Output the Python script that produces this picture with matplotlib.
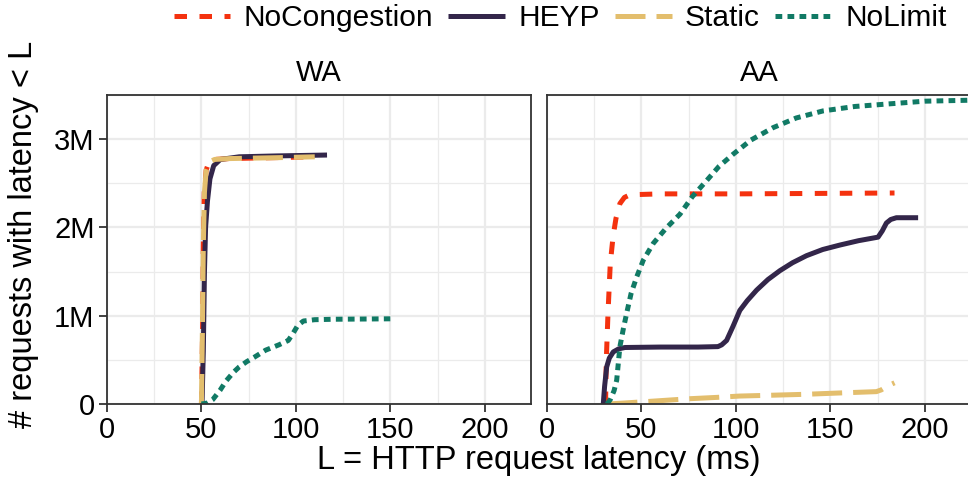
from __future__ import annotations

import matplotlib

matplotlib.use("Agg")

import matplotlib.pyplot as plt
from matplotlib.lines import Line2D
from matplotlib.ticker import MultipleLocator

plt.rcParams["font.family"] = ["Liberation Sans", "DejaVu Sans"]

# series order / legend order
series_names = ["NoCongestion", "HEYP", "Static", "NoLimit"]
panel_titles = ["WA", "AA"]

# WA panel (latency in ms, requests in millions)
nocong_wa_x = [50.0, 50.6, 51.0, 51.5, 52.5, 54.0, 57.0, 65.0, 110.0]
nocong_wa_y = [0.0, 0.8, 1.8, 2.4, 2.65, 2.74, 2.77, 2.78, 2.80]
heyp_wa_x = [50.3, 51.0, 51.6, 52.2, 53.2, 54.5, 56.5, 60.0, 70.0, 90.0, 116.5]
heyp_wa_y = [0.0, 0.6, 1.5, 2.0, 2.3, 2.55, 2.7, 2.77, 2.8, 2.81, 2.82]
static_wa_x = [50.0, 50.5, 51.0, 51.6, 52.5, 54.0, 57.0, 65.0, 90.0, 110.0]
static_wa_y = [0.0, 0.8, 1.8, 2.4, 2.65, 2.74, 2.77, 2.78, 2.79, 2.80]
nolimit_wa_x = [50, 53, 56, 60, 63, 67, 70, 74, 78, 84, 91, 96, 98.5, 101, 104, 110, 120, 150]
nolimit_wa_y = [0.0, 0.01, 0.05, 0.16, 0.26, 0.36, 0.42, 0.48, 0.53, 0.61, 0.67, 0.72, 0.8, 0.89,
                0.94, 0.955, 0.96, 0.965]

# AA panel
nocong_aa_x = [31.0, 31.4, 32.3, 33.5, 35.0, 36.5, 38.6, 41.0, 44.0, 60.0, 100.0, 184.0]
nocong_aa_y = [0.0, 0.5, 1.03, 1.59, 1.9, 2.1, 2.27, 2.34, 2.37, 2.38, 2.38, 2.39]
heyp_aa_x = [29.8, 30.5, 31.6, 33.0, 35.1, 38.0, 41.3, 60.0, 80.0, 90.5, 92.5, 95.1, 98.5, 102.1,
             106.0, 111.0, 117.0, 123.3, 130.0, 137.4, 146.0, 155.0, 165.0, 175.3, 177.5, 179.7,
             182.0, 185.0, 196.5]
heyp_aa_y = [0.0, 0.2, 0.42, 0.52, 0.59, 0.625, 0.64, 0.645, 0.645, 0.65, 0.67, 0.72, 0.88, 1.06,
             1.17, 1.29, 1.41, 1.51, 1.6, 1.68, 1.75, 1.80, 1.85, 1.89, 1.96, 2.05, 2.09, 2.11, 2.11]
static_aa_x = [32, 40, 54.5, 65, 75.7, 90, 102, 120, 137, 155, 174.4, 177, 180, 184]
static_aa_y = [0.0, 0.01, 0.03, 0.045, 0.06, 0.075, 0.09, 0.1, 0.11, 0.125, 0.14, 0.16, 0.2, 0.24]
nolimit_aa_x = [31.8, 33.5, 35.5, 36.9, 38.6, 40.5, 42.2, 44.5, 47.5, 51, 56.3, 63, 70.4, 77, 84.5,
                91, 98.6, 108, 119.7, 132, 146.2, 163, 181.5, 200, 222, 240]
nolimit_aa_y = [0.0, 0.05, 0.15, 0.27, 0.65, 0.86, 1.03, 1.25, 1.44, 1.63, 1.82, 1.99, 2.15, 2.35,
                2.53, 2.69, 2.83, 2.99, 3.13, 3.24, 3.32, 3.37, 3.40, 3.43, 3.44, 3.45]

x_ticks = [0, 50, 100, 150, 200]
y_ticks = [0, 1, 2, 3]
y_tick_labels = ["0", "1M", "2M", "3M"]

COLORS = {
    "NoCongestion": "#F4320F",
    "HEYP": "#33264A",
    "Static": "#E3BE6D",
    "NoLimit": "#117A65",
}
DASHES = {
    "NoCongestion": (2.5, 2.5),
    "HEYP": None,
    "Static": (6.0, 2.2),
    "NoLimit": (1.35, 1.05),
}
LW = 3.6
GRID = "#EBEBEB"
DARK = "#333333"


def style_panel(ax, title: str, show_y: bool) -> None:
    ax.set_xlim(0, 224.5)
    ax.set_ylim(0, 3.5)
    ax.set_xticks(x_ticks)
    ax.set_xticklabels([str(t) for t in x_ticks])
    ax.xaxis.set_minor_locator(MultipleLocator(25))
    ax.yaxis.set_minor_locator(MultipleLocator(0.5))
    ax.set_yticks(y_ticks)
    ax.tick_params(which="major", labelsize=21, color=DARK, width=1.3, length=6, pad=3,
                   labelcolor="black")
    ax.tick_params(which="minor", length=0)
    if show_y:
        ax.set_yticklabels(y_tick_labels)
    else:
        ax.set_yticklabels([])
        ax.tick_params(axis="y", which="major", length=0)
    ax.grid(which="major", color=GRID, linewidth=1.6)
    ax.grid(which="minor", color=GRID, linewidth=0.9)
    ax.set_axisbelow(True)
    for spine in ax.spines.values():
        spine.set_color(DARK)
        spine.set_linewidth(1.3)
    ax.set_title(title, fontsize=21, pad=10)


def draw_series(ax, data: dict[str, tuple[list, list]]) -> None:
    for name in series_names:
        xs, ys = data[name]
        line, = ax.plot(xs, ys, color=COLORS[name], linewidth=LW, solid_capstyle="butt",
                        dash_capstyle="butt", solid_joinstyle="round", clip_on=True)
        if DASHES[name] is not None:
            line.set_dashes(DASHES[name])


def main() -> None:
    fig = plt.figure(figsize=(9.68, 4.82), dpi=100)
    ax_wa = fig.add_axes([107 / 968, 78 / 482, 424 / 968, 309 / 482])
    ax_aa = fig.add_axes([547 / 968, 78 / 482, 424 / 968, 309 / 482])

    wa = {
        "NoCongestion": (nocong_wa_x, nocong_wa_y),
        "HEYP": (heyp_wa_x, heyp_wa_y),
        "Static": (static_wa_x, static_wa_y),
        "NoLimit": (nolimit_wa_x, nolimit_wa_y),
    }
    aa = {
        "NoCongestion": (nocong_aa_x, nocong_aa_y),
        "HEYP": (heyp_aa_x, heyp_aa_y),
        "Static": (static_aa_x, static_aa_y),
        "NoLimit": (nolimit_aa_x, nolimit_aa_y),
    }
    for ax, title, data, show_y in [(ax_wa, panel_titles[0], wa, True), (ax_aa, panel_titles[1], aa, False)]:
        draw_series(ax, data)
        style_panel(ax, title, show_y)

    fig.text(539 / 968, 1 - 460 / 482, "L = HTTP request latency (ms)", fontsize=23.5,
             ha="center", va="center")
    fig.text(24 / 968, 1 - 234 / 482, "# requests with latency < L", fontsize=23.5,
             rotation=90, ha="center", va="center")

    handles = []
    for name in series_names:
        h = Line2D([], [], color=COLORS[name], linewidth=LW, solid_capstyle="butt",
                   dash_capstyle="butt")
        if DASHES[name] is not None:
            h.set_dashes(DASHES[name])
        handles.append(h)
    fig.legend(handles, series_names, loc="center", bbox_to_anchor=(560 / 968, 1 - 18 / 482),
               ncol=4, frameon=False, fontsize=21.5, handlelength=1.9, handletextpad=0.45,
               columnspacing=0.5, borderaxespad=0, borderpad=0)

    fig.savefig("out.png", dpi=100)
    plt.close(fig)


if __name__ == "__main__":
    main()
